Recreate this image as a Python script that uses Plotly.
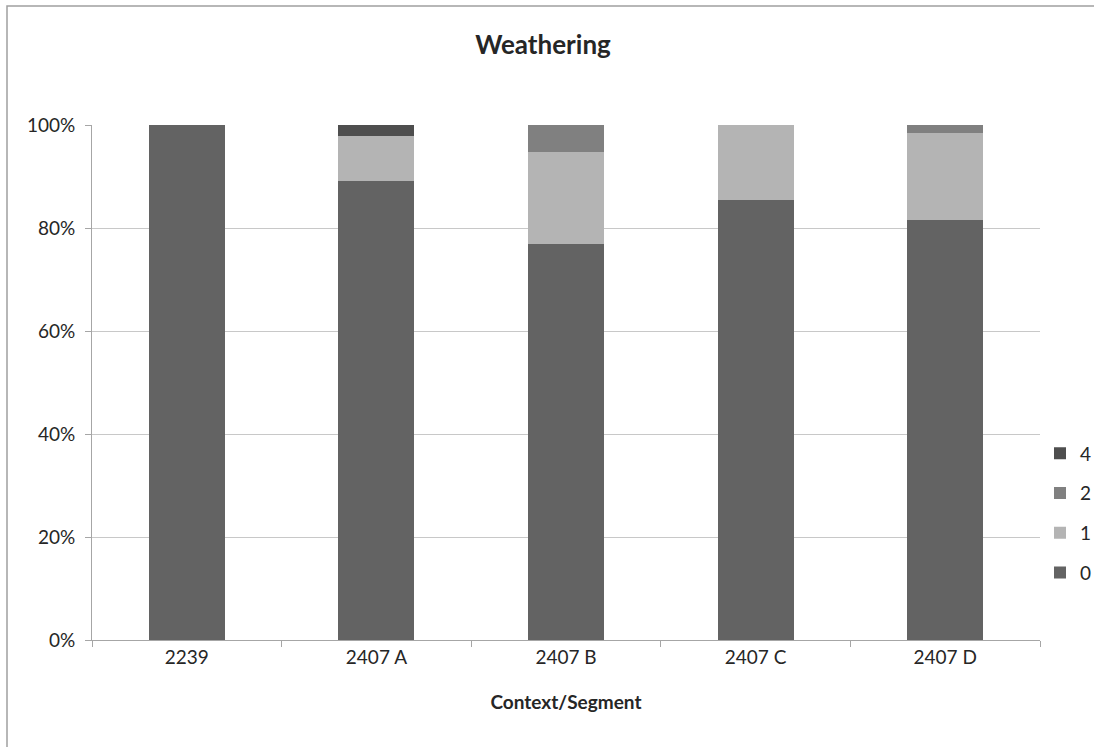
import plotly.graph_objects as go

# Weathering stage shares (%) per context/segment
categories = ["2239", "2407 A", "2407 B", "2407 C", "2407 D"]
stage_0 = [100.0, 89.1, 76.9, 85.4, 81.6]
stage_1 = [0.0, 8.8, 17.9, 14.6, 16.8]
stage_2 = [0.0, 0.0, 5.2, 0.0, 1.6]
stage_4 = [0.0, 2.1, 0.0, 0.0, 0.0]
y_ticks = [0, 20, 40, 60, 80, 100]
y_tick_labels = ["0%", "20%", "40%", "60%", "80%", "100%"]

# (legend name, values, colour, legend rank) - stacked bottom to top
series = [
    ("0", stage_0, "#636363", 4),
    ("1", stage_1, "#b4b4b4", 3),
    ("2", stage_2, "#808080", 2),
    ("4", stage_4, "#4e4e4e", 1),
]

W, H = 1094, 747
L, R, T, B = 92, 54, 125, 107
pw, ph = W - L - R, H - T - B

FONT = "Lato"
TXT = "#262626"

fig = go.Figure()
for name, vals, color, rank in series:
    fig.add_trace(go.Bar(
        x=categories, y=vals, name=name, legendgroup=name, legendrank=rank,
        marker=dict(color=color, line=dict(width=0)),
        width=0.4,
    ))


def px_x(p):
    return (p - L) / pw


def px_y(p):
    return (H - B - p) / ph


fig.update_layout(
    width=W, height=H,
    margin=dict(l=L, r=R, t=T, b=B, autoexpand=False),
    barmode="stack",
    plot_bgcolor="white", paper_bgcolor="white",
    font=dict(family=FONT, size=20, color=TXT),
    title=dict(text="<b>Weathering</b>", x=543 / W, xanchor="center",
               y=1 - 45 / H, yanchor="middle",
               font=dict(family=FONT, size=26, color=TXT)),
    xaxis=dict(
        title=dict(text="<b>Context/Segment</b>", font=dict(family=FONT, size=19, color=TXT),
                   standoff=28),
        showline=True, linecolor="#a6a6a6", linewidth=1,
        ticks="outside", tickson="boundaries", ticklen=6, tickcolor="#a6a6a6",
        showgrid=False, tickfont=dict(size=19, color=TXT),
    ),
    yaxis=dict(
        range=[0, 100], tickmode="array", tickvals=y_ticks, ticktext=y_tick_labels,
        showline=True, linecolor="#a6a6a6", linewidth=1,
        ticks="outside", ticklen=6, tickcolor="#a6a6a6", ticklabelstandoff=6,
        showgrid=True, gridcolor="#c8c8c8", gridwidth=1,
        zeroline=False, tickfont=dict(size=19, color=TXT),
    ),
    legend=dict(
        x=1.0, xanchor="left", y=px_y(513), yanchor="middle",
        traceorder="grouped", tracegroupgap=12,
        font=dict(size=19, color=TXT), bgcolor="rgba(0,0,0,0)",
        itemwidth=30,
    ),
    shapes=[dict(
        type="rect", xref="paper", yref="paper",
        x0=px_x(7), x1=px_x(1094 + 20), y0=px_y(747 + 20), y1=px_y(6),
        line=dict(color="#a0a0a0", width=1.5), fillcolor="rgba(0,0,0,0)",
        layer="below",
    )],
)

fig.write_html("out.html")
